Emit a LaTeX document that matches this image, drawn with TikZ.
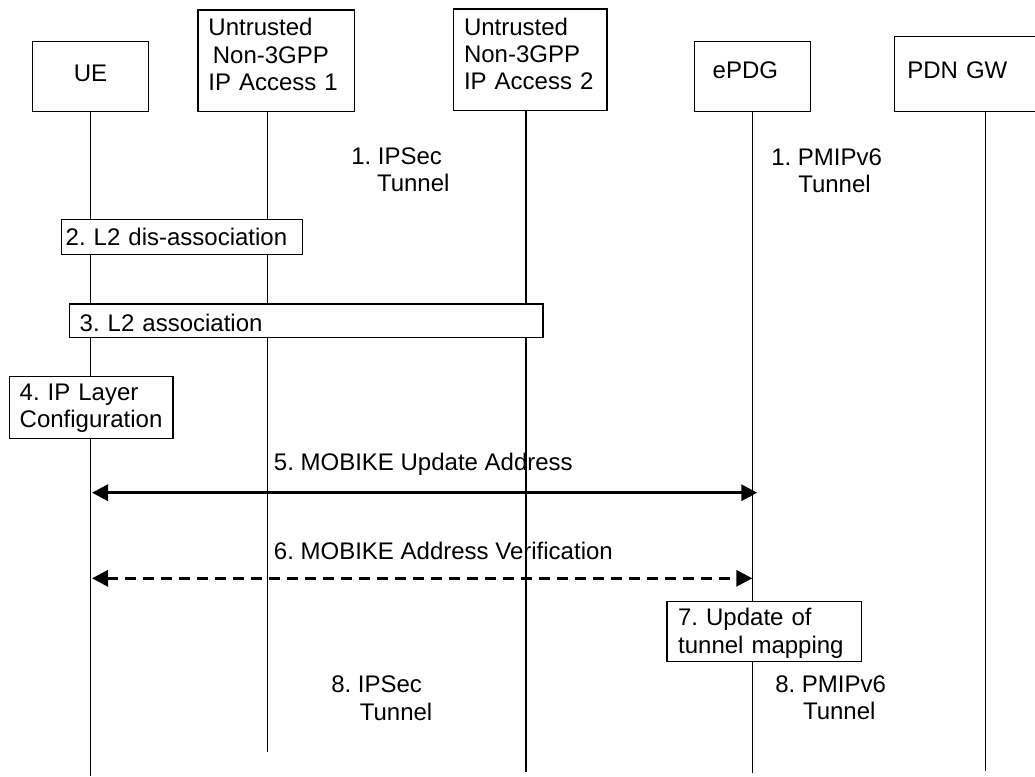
\documentclass[tikz,border=0pt]{standalone}
\usepackage{fontspec}
\setmainfont{Liberation Sans}
\usetikzlibrary{arrows.meta}
\newcommand\myH[1]{\rule{0pt}{#1}}
\newcommand\myD[1]{\rule[-#1]{0pt}{#1}}
\newcommand\myfont{\fontsize{18pt}{20.6pt}\selectfont\frenchspacing\hyphenpenalty=10000 \exhyphenpenalty=10000 \relax}
\begin{document}
\begin{tikzpicture}[x=0.75pt,y=-0.75pt,
  every node/.style={font=\myfont, inner sep=0pt},
  box/.style={draw, line width=1.1pt, fill=white, anchor=north west, inner ysep=0pt, align=left},
  life/.style={line width=0.9pt},
  lbl/.style={anchor=north west, align=left},
  msg/.style={line width=2.4pt, {Triangle[length=12pt,width=12pt]}-{Triangle[length=12pt,width=12pt]}},
  dmsg/.style={msg, dash pattern=on 8.25pt off 5.25pt},
]
\useasboundingbox (0,0) rectangle (1035,776);

% lifeline end points
\coordinate (ueT) at (90.3,110.7);
\coordinate (ueB) at (90.3,776);
\coordinate (a1T) at (267.3,110.7);
\coordinate (a1B) at (267.3,751.7);
\coordinate (a2T) at (526,110.7);
\coordinate (a2B) at (526,771.7);
\coordinate (epT) at (752.3,110.7);
\coordinate (epB) at (752.3,772.7);
\coordinate (pdT) at (985.3,110.7);
\coordinate (pdB) at (985.3,771);

\draw[life] (ueT) -- (ueB);
\draw[life] (a1T) -- (a1B);
\draw[life] (a2T) -- (a2B);
\draw[life] (epT) -- (epB);
\draw[life] (pdT) -- (pdB);

% header boxes
\node[box, inner xsep=0pt, text width=87.2pt, align=center] (ue) at (31.7,40.7) {\myH{30.2pt}UE\myD{22.3pt}};
\node[box, inner xsep=7.8pt, text width=101.7pt] (acc1) at (197.3,9.3) {\myH{19.3pt}Untrusted\\\hspace*{3.3pt}Non-3GPP\\IP Access 1\myD{15.5pt}};
\node[box, inner xsep=7.95pt, text width=99.1pt] (acc2) at (452.7,8.3) {\myH{19.5pt}Untrusted\\Non-3GPP\\IP Access 2\myD{15.5pt}};
\node[box, inner xsep=13.5pt, text width=60pt] (epdg) at (694,40.7) {\myH{27.45pt}ePDG\myD{25.05pt}};
\node[box, inner xsep=9.5pt, text width=86.75pt] (pdngw) at (894,35.7) {\myH{31.2pt}PDN GW\myD{25.05pt}};

% step boxes
\node[box, inner xsep=3pt, text width=174.45pt] (s2) at (61,219) {\myH{19.5pt}2. L2 dis-association\myD{6.4pt}};
\node[box, inner xsep=7.65pt, text width=339.8pt] (s3) at (68.8,303.3) {\myH{20.55pt}3. L2 association\myD{4.5pt}};
\node[box, inner xsep=7.7pt, text width=107.3pt] (s4) at (8.7,376) {\myH{17.5pt}4. IP Layer\\Configuration\myD{8.2pt}};
\node[box, inner xsep=8.4pt, text width=129.15pt] (s7) at (666.2,601) {\myH{18pt}7. Update of\\tunnel mapping\myD{6.4pt}};

% free labels
\node[lbl] (t1a) at (351,145.33) {\myH{14pt}1. IPSec\\\hspace*{19.3pt}Tunnel};
\node[lbl] (t1b) at (771,146.33) {\myH{14pt}1. PMIPv6\\\hspace*{20.25pt}Tunnel};
\node[lbl] (t8a) at (331,673.63) {\myH{14pt}8. IPSec\\\hspace*{21.4pt}Tunnel};
\node[lbl] (t8b) at (775,673.33) {\myH{14pt}8. PMIPv6\\\hspace*{20.8pt}Tunnel};

% messages
\coordinate (m5L) at (92,492.7);
\coordinate (m5R) at (757.3,492.7);
\coordinate (m6L) at (92,578.3);
\coordinate (m6R) at (752.3,578.3);
\draw[msg] (m5L) -- (m5R);
\draw[dmsg] (m6L) -- (m6R);
\node[lbl] (l5) at (273.7,452.03) {\myH{14pt}5. MOBIKE Update Address};
\node[lbl] (l6) at (273.7,540.33) {\myH{14pt}6. MOBIKE Address Verification};
\end{tikzpicture}
\end{document}
